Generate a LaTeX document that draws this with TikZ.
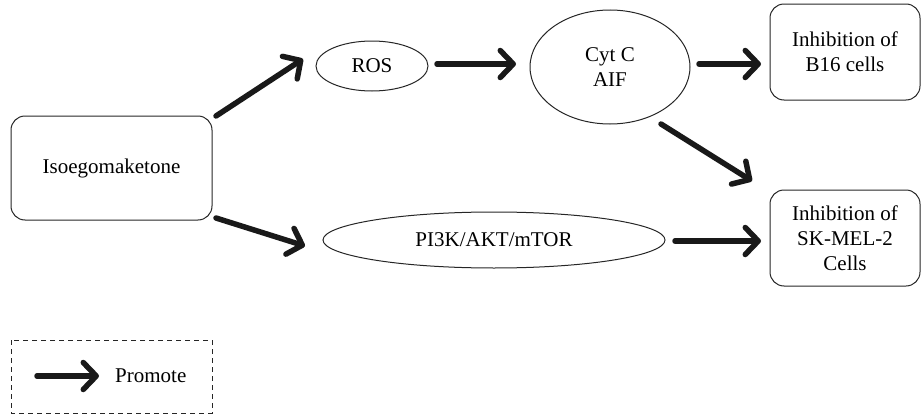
\documentclass[tikz,border=0pt]{standalone}
\usepackage{fontspec}
\setmainfont{Liberation Serif}
\usetikzlibrary{arrows.meta,shapes.geometric}
\begin{document}
\begin{tikzpicture}[x=1pt,y=-1pt,
  font=\fontsize{21}{25}\selectfont,
  rbox/.style={draw=black!85,line width=1pt,rounded corners=14pt,align=center,inner sep=0pt},
  ell/.style={draw=black!85,line width=1pt,ellipse,inner sep=0pt,align=center},
  bigarrow/.style={line width=5.5pt,draw=black!90,line cap=round,
    -{Straight Barb[length=13pt,width=27pt,line width=5.5pt,line cap=round,round]}}]
\useasboundingbox (0,0) rectangle (922,415);
\node[rbox,minimum width=201pt,minimum height=104pt] (iso) at (111.5,168) {Isoegomaketone};
\node[ell,minimum width=112pt,minimum height=50pt] (ros) at (372,66) {ROS};
\node[ell,minimum width=160pt,minimum height=114pt] (cyt) at (610,67) {Cyt C\\AIF};
\node[ell,minimum width=342pt,minimum height=56pt] (pi) at (494,240) {PI3K/AKT/mTOR};
\node[rbox,minimum width=150pt,minimum height=96pt] (b16) at (845,52) {Inhibition of\\B16 cells};
\node[rbox,minimum width=150pt,minimum height=96pt] (sk) at (845,238) {Inhibition of\\SK-MEL-2\\Cells};
\coordinate (a1s) at (216,116); \coordinate (a1e) at (303,59);
\coordinate (a2s) at (216,218); \coordinate (a2e) at (305,246);
\coordinate (a3s) at (437,64); \coordinate (a3e) at (516,64);
\coordinate (a4s) at (699,64); \coordinate (a4e) at (761,64);
\coordinate (a5s) at (661,124); \coordinate (a5e) at (752,181);
\coordinate (a6s) at (675,241); \coordinate (a6e) at (761,241);
\draw[bigarrow] (a1s) -- (a1e);
\draw[bigarrow] (a2s) -- (a2e);
\draw[bigarrow] (a3s) -- (a3e);
\draw[bigarrow] (a4s) -- (a4e);
\draw[bigarrow] (a5s) -- (a5e);
\draw[bigarrow] (a6s) -- (a6e);
\draw[draw=black!85,line width=1pt,dash pattern=on 5pt off 4pt] (11,340) rectangle (212,413);
\coordinate (ls) at (37,376); \coordinate (le) at (99,376);
\draw[bigarrow] (ls) -- (le);
\node[anchor=west,inner sep=0pt] (prom) at (115,376) {Promote};
\end{tikzpicture}
\end{document}
